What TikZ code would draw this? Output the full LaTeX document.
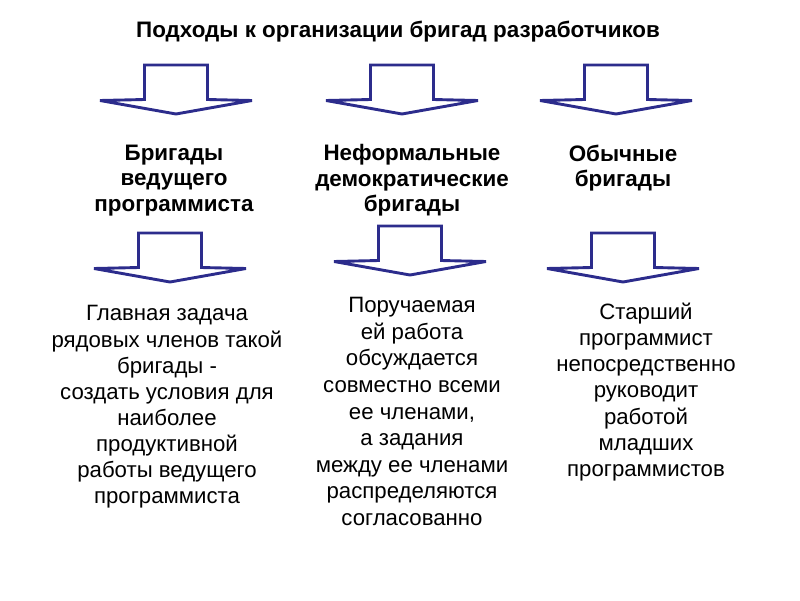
\documentclass[tikz,border=0pt]{standalone}
\usepackage{fontspec}
\setmainfont{Liberation Sans}
\definecolor{arrowblue}{RGB}{44,44,140}
\tikzset{
  arrowline/.style={draw=arrowblue, line width=2.9pt, fill=white, line join=miter},
  bigarrow/.pic={\path[arrowline] (-31.5,0) -- (31.5,0) -- (31.5,34.5) -- (76,35.5) -- (0,49) -- (-76,35.5) -- (-31.5,34.5) -- cycle;},
  titletext/.style={font=\fontsize{22.4}{26}\selectfont\bfseries, inner sep=0pt},
  headtext/.style={font=\fontsize{22.4}{25.5}\selectfont\bfseries, align=center, inner sep=0pt},
  bodytext/.style={font=\fontsize{22.2}{26.1}\selectfont, align=center, inner sep=0pt}
}
\begin{document}
\begin{tikzpicture}[x=1pt,y=-1pt]
\useasboundingbox (0,0) rectangle (800,600);
\node[titletext] (title) at (398,32) {Подходы к организации бригад разработчиков};

\pic (a1) at (176,65) {bigarrow};
\pic (a2) at (402,65) {bigarrow};
\pic (a3) at (616,65) {bigarrow};

\node[headtext] (h1) at (174,180.5) {Бригады\\ведущего\\программиста};
\node[headtext] (h2) at (412,180.5) {Неформальные\\демократические\\бригады};
\node[headtext] (h3) at (623,168) {Обычные\\бригады};

\pic (b1) at (170,233) {bigarrow};
\pic (b2) at (410,226) {bigarrow};
\pic (b3) at (623,233) {bigarrow};

\node[bodytext] (t1) at (167,407) {Главная задача\\рядовых членов такой\\бригады -\\создать условия для\\наиболее\\продуктивной\\работы ведущего\\программиста};
\node[bodytext, font=\fontsize{22.2}{26.6}\selectfont] (t2) at (412,411.5) {Поручаемая\\ей работа\\обсуждается\\совместно всеми\\ее членами,\\а задания\\между ее членами\\распределяются\\согласованно};
\node[bodytext] (t3) at (646,392) {Старший\\программист\\непосредственно\\руководит\\работой\\младших\\программистов};
\end{tikzpicture}
\end{document}
